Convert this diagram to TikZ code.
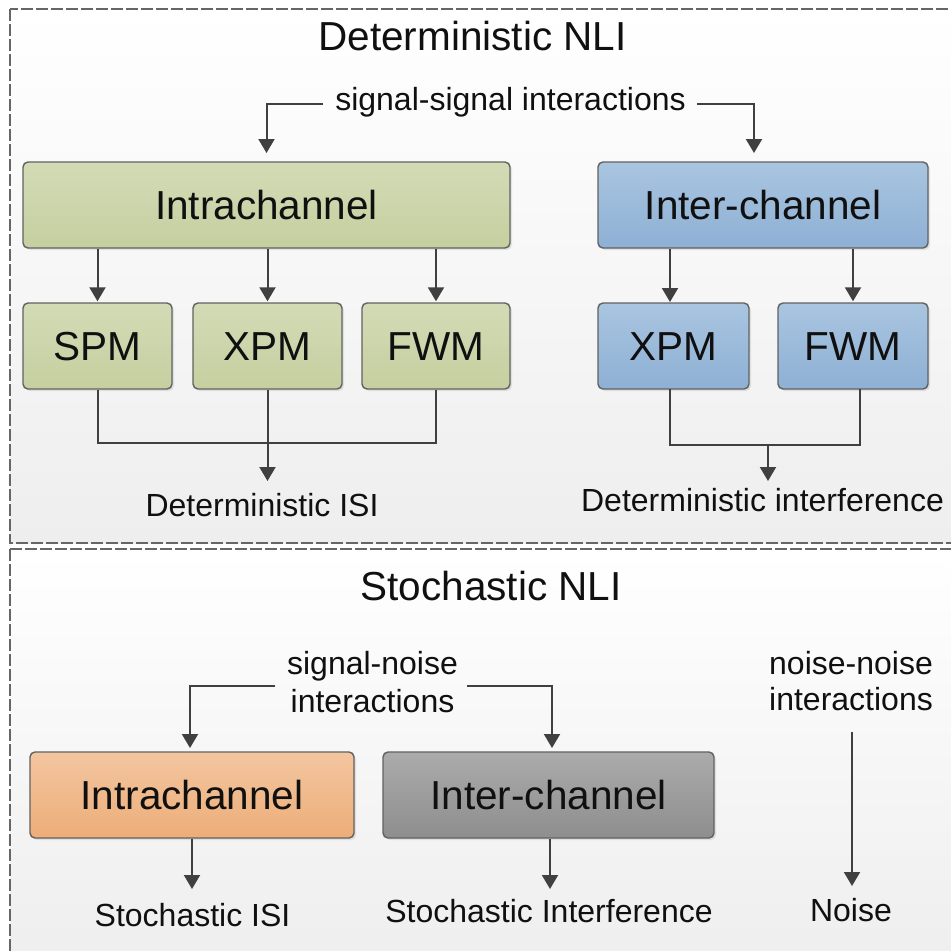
\documentclass[tikz,border=0pt]{standalone}
\usepackage{fontspec}
\setmainfont{Liberation Sans}
\usetikzlibrary{arrows.meta,shadows,calc}
\definecolor{greentop}{HTML}{D3DBB6}
\definecolor{greenbot}{HTML}{C5CF9F}
\definecolor{bluetop}{HTML}{A9C5E0}
\definecolor{bluebot}{HTML}{8EB0D5}
\definecolor{orangetop}{HTML}{F3C6A0}
\definecolor{orangebot}{HTML}{EDAD78}
\definecolor{greytop}{HTML}{ABABAB}
\definecolor{greybot}{HTML}{8E8E8E}
\definecolor{panelbot}{HTML}{EEEEEE}
\definecolor{linecol}{HTML}{404040}
\definecolor{framecol}{HTML}{666666}
\definecolor{txt}{HTML}{101010}
\tikzset{
  panel/.style={top color=white, bottom color=panelbot},
  frame/.style={draw=framecol, line width=1.6pt, dash pattern=on 12pt off 3pt},
  box/.style={draw=black!62, line width=1.4pt, rounded corners=5pt,
    text height=29pt, text depth=0pt, inner sep=0pt, text=txt,
    font=\fontsize{40.5}{48}\selectfont,
    drop shadow={opacity=0.18, shadow xshift=2pt, shadow yshift=-2pt}},
  gbox/.style={box, top color=greentop, bottom color=greenbot},
  bbox/.style={box, top color=bluetop, bottom color=bluebot},
  obox/.style={box, top color=orangetop, bottom color=orangebot},
  kbox/.style={box, top color=greytop, bottom color=greybot},
  title/.style={anchor=base, inner sep=0pt, text=txt, font=\fontsize{40.5}{48}\selectfont},
  lbl/.style={anchor=base, inner sep=0pt, text=txt, font=\fontsize{32}{38}\selectfont},
  ln/.style={draw=linecol, line width=2pt},
  arr/.style={ln, -{Triangle[width=16pt,length=14pt]}}
}
\begin{document}
\begin{tikzpicture}[x=1pt,y=-1pt]
\useasboundingbox (0,0) rectangle (951,951);
\clip (0,0) rectangle (951,951);
% panels
\path[panel] (10,9) rectangle (965,543);
\path[frame] (10,9) rectangle (965,543);
\path[panel] (10,549) rectangle (965,965);
\path[frame] (10,549) rectangle (965,965);

% ---------- Deterministic NLI ----------
\node[title] (t1) at (472.5,50) {Deterministic NLI};
\node[lbl] (sig) at (510.5,110) {signal-signal interactions};
\node[gbox, minimum width=487pt, minimum height=86pt] (intra) at (266.5,205) {Intrachannel};
\node[bbox, minimum width=330pt, minimum height=86pt] (inter) at (763,205) {Inter-channel};
\node[gbox, minimum width=149pt, minimum height=86pt] (spm) at (97.5,346) {SPM};
\node[gbox, minimum width=149pt, minimum height=86pt] (xpma) at (267.5,346) {XPM};
\node[gbox, minimum width=148pt, minimum height=86pt] (fwma) at (436,346) {FWM};
\node[bbox, minimum width=151pt, minimum height=86pt] (xpmb) at (673.5,346) {XPM};
\node[bbox, minimum width=150pt, minimum height=86pt] (fwmb) at (853,346) {FWM};
\node[lbl] (disi) at (262,516) {Deterministic ISI};
\node[lbl] (dint) at (762.5,511) {Deterministic interference};

\coordinate (sigL) at (323,104);
\coordinate (sigR) at (697,104);
\draw[arr] (sigL) -| (266.5,153);
\draw[arr] (sigR) -| (754,153);
\draw[arr] (intra.south -| spm.north) -- ([yshift=1pt]spm.north);
\draw[arr] (intra.south -| xpma.north) -- ([yshift=1pt]xpma.north);
\draw[arr] (intra.south -| fwma.north) -- ([yshift=1pt]fwma.north);
\draw[arr] (inter.south -| 670,0) -- (670,302);
\draw[arr] (inter.south -| fwmb.north) -- ([yshift=1pt]fwmb.north);
\draw[ln] (spm.south) -- (97.5,443) -| (fwma.south);
\draw[arr] (xpma.south) -- (267.5,481);
\draw[ln] (670,389) -- (670,445) -| (860,389);
\draw[arr] (768,445) -- (768,481);

% ---------- Stochastic NLI ----------
\node[title] (t2) at (491,600) {Stochastic NLI};
\node[lbl] (sn1) at (372.5,674) {signal-noise};
\node[lbl] (sn2) at (372.5,712) {interactions};
\node[lbl] (nn1) at (851,674) {noise-noise};
\node[lbl] (nn2) at (851,710) {interactions};
\node[obox, minimum width=324pt, minimum height=86pt] (ointra) at (192,795) {Intrachannel};
\node[kbox, minimum width=331pt, minimum height=86pt] (kinter) at (548.5,795) {Inter-channel};
\node[lbl] (sisi) at (192.5,926) {Stochastic ISI};
\node[lbl] (sint) at (549,922) {Stochastic Interference};
\node[lbl] (noise) at (851,921) {Noise};

\coordinate (snL) at (275,686);
\coordinate (snR) at (467,686);
\draw[arr] (snL) -| (190,748);
\draw[arr] (snR) -| (552,748);
\draw[arr] (ointra.south) -- (192,889);
\draw[arr] (kinter.south -| 550,0) -- (550,889);
\draw[arr] (852,732) -- (852,886);
\end{tikzpicture}
\end{document}
